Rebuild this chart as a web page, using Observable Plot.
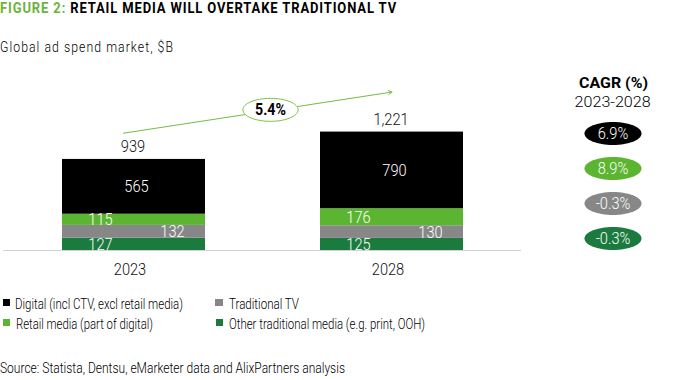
<!DOCTYPE html>
<html><head><meta charset="utf-8">
<script src="https://cdn.jsdelivr.net/npm/d3@7"></script>
<script src="https://cdn.jsdelivr.net/npm/@observablehq/plot@0.6"></script>
<style>
html,body{margin:0;padding:0;background:#fff;}
body{width:700px;height:380px;position:relative;overflow:hidden;font-family:Roboto,"Noto Sans",sans-serif;color:#000;}
.abs{position:absolute;white-space:nowrap;}
</style></head><body>
<script>
// ---- data ----
const years = ["2023", "2028"];
const seriesNames = [
  "Other traditional media (e.g. print, OOH)",
  "Traditional TV",
  "Retail media (part of digital)",
  "Digital (incl CTV, excl retail media)"
];
const otherTraditional = [127, 125];
const traditionalTV = [132, 130];
const retailMedia = [115, 176];
const digital = [565, 790];
const totals = [939, 1221];
const seriesCagr = ["-0.3%", "-0.3%", "8.9%", "6.9%"];
const marketCagr = "5.4%";
const titleLead = "FIGURE 2:";
const titleText = " RETAIL MEDIA WILL OVERTAKE TRADITIONAL TV";
const subtitle = "Global ad spend market, $B";
const cagrHeader = "CAGR (%)";
const cagrPeriod = "2023-2028";
const source = "Source: Statista, Dentsu, eMarketer data and AlixPartners analysis";

// ---- styling ----
const palette = ["#1b7a3e", "#878787", "#5cb531", "#000000"];
const values = [otherTraditional, traditionalTV, retailMedia, digital];
const rows = [];
years.forEach((yr, i) => seriesNames.forEach((s, j) => rows.push({year: yr, series: s, value: values[j][i]})));
const totalRows = years.map((yr, i) => ({year: yr, total: totals[i]}));
const cagrRows = seriesNames.map((s, j) => ({series: s, cagr: seriesCagr[j]}));
const fmt = d3.format(",");

function ellipseSymbol(aspect) {
  return {draw(ctx, size) {
    const ry = Math.sqrt(size / Math.PI), rx = ry * aspect, k = 0.5523;
    ctx.moveTo(rx, 0);
    ctx.bezierCurveTo(rx, k * ry, k * rx, ry, 0, ry);
    ctx.bezierCurveTo(-k * rx, ry, -rx, k * ry, -rx, 0);
    ctx.bezierCurveTo(-rx, -k * ry, -k * rx, -ry, 0, -ry);
    ctx.bezierCurveTo(k * rx, -ry, rx, -k * ry, rx, 0);
    ctx.closePath();
  }};
}

function condense(svg, k) {
  svg.querySelectorAll("text").forEach(t => {
    const w = t.getComputedTextLength();
    if (w > 0) { t.setAttribute("textLength", (w * k).toFixed(2)); t.setAttribute("lengthAdjust", "spacingAndGlyphs"); }
  });
}

function place(parts, o) {
  const el = document.createElement("div");
  el.className = "abs";
  el.style.cssText += `left:${o.left || 0}px;top:${o.top}px;font-size:${o.size}px;line-height:${o.size}px;font-weight:${o.weight || 300};letter-spacing:${o.spacing || 0}px;color:#000;`;
  for (const p of (Array.isArray(parts) ? parts : [[parts]])) {
    const s = document.createElement("span");
    s.textContent = p[0];
    if (p[1]) s.style.color = p[1];
    el.appendChild(s);
  }
  document.body.appendChild(el);
  if (o.target) {
    const w = el.getBoundingClientRect().width;
    if (o.center != null) el.style.left = (o.center - w / 2) + "px";
    el.style.transformOrigin = o.center != null ? "50% 50%" : "0 50%";
    el.style.transform = `scaleX(${o.target / w})`;
  }
  return el;
}

// ---- header ----
place([[titleLead, "#6db33f"], [titleText]], {left: 0, top: 1.4, size: 15, weight: 700, spacing: 1, target: 397});
place(subtitle, {left: 0, top: 39.7, size: 14, weight: 300, spacing: 1.2, target: 174});

// ---- main chart ----
const fontStyle = {fontFamily: "Roboto, sans-serif", fontSize: "17px", fontWeight: 300, background: "transparent"};
const arrowData = [{from: years[0], to: years[1], a: totals[0], b: totals[1]}];
const yStart = d => d.a + 287, yEnd = d => d.b + 413;
const main = Plot.plot({
  width: 540, height: 225,
  marginLeft: 3, marginRight: 19, marginTop: 10, marginBottom: 35,
  x: {domain: years, range: [62, 464], paddingInner: 0.445, paddingOuter: 0, axis: null},
  y: {domain: [0, 1856], axis: null},
  color: {domain: seriesNames, range: palette},
  style: fontStyle,
  marks: [
    Plot.ruleY([0], {stroke: "#d3d3d3", strokeWidth: 1}),
    Plot.barY(rows, Plot.stackY({x: "year", y: "value", fill: "series", order: seriesNames})),
    Plot.text(rows, Plot.stackY({x: "year", y: "value", z: "series", order: seriesNames,
      text: d => (d.series === seriesNames[0] || d.series === seriesNames[2]) ? String(d.value) : null,
      fill: "white", dx: -33.5})),
    Plot.text(rows, Plot.stackY({x: "year", y: "value", z: "series", order: seriesNames,
      text: d => d.series === seriesNames[1] ? String(d.value) : null,
      fill: "white", dx: 38.5})),
    Plot.text(rows, Plot.stackY({x: "year", y: "value", z: "series", order: seriesNames,
      text: d => d.series === seriesNames[3] ? String(d.value) : null,
      fill: "white", dx: 2.5})),
    Plot.text(totalRows, {x: "year", y: "total", text: d => fmt(d.total), dy: -12.5, dx: -1, fill: "#111"}),
    Plot.axisX({tickSize: 0, tickPadding: 12.5, dx: -4, fill: "#111"}),
    Plot.arrow(arrowData, {x1: "from", x2: "to", y1: yStart, y2: yEnd, insetStart: -10.6,
      stroke: "#72bd45", strokeWidth: 1, headLength: 6}),
    Plot.dot(arrowData, {x: "from", dx: 136.5, y: d => yStart(d) * 0.45 + yEnd(d) * 0.55,
      r: 11.5, symbol: ellipseSymbol(2.4), fill: "white", stroke: "#7cc24a", strokeWidth: 1}),
    Plot.text(arrowData, {x: "from", dx: 136.5, y: d => yStart(d) * 0.45 + yEnd(d) * 0.55,
      text: () => marketCagr, fontWeight: 700, fontSize: 16.5, fill: "#000"})
  ]
});
const mainWrap = document.createElement("div");
mainWrap.className = "abs";
mainWrap.style.cssText += "left:0;top:60px;";
mainWrap.appendChild(main);
document.body.appendChild(mainWrap);
condense(main, 0.86);

// ---- CAGR column ----
place(cagrHeader, {center: 613.5, top: 75.5, size: 15.5, weight: 700, target: 69});
place(cagrPeriod, {center: 613, top: 94.6, size: 15.5, weight: 300, target: 76});
const cagrOrder = seriesNames.slice().reverse();
const cagrPlot = Plot.plot({
  width: 160, height: 140,
  marginTop: 18, marginBottom: 17, marginLeft: 0, marginRight: 15,
  y: {type: "point", domain: cagrOrder, padding: 0, axis: null},
  color: {domain: seriesNames, range: palette},
  style: fontStyle,
  marks: [
    Plot.dot(cagrRows, {y: "series", fill: "series", r: 11.5, symbol: ellipseSymbol(2.48), frameAnchor: "middle"}),
    Plot.text(cagrRows, {y: "series", text: "cagr", fill: "white", frameAnchor: "middle"})
  ]
});
const cagrWrap = document.createElement("div");
cagrWrap.className = "abs";
cagrWrap.style.cssText += "left:540px;top:115px;";
cagrWrap.appendChild(cagrPlot);
document.body.appendChild(cagrWrap);
condense(cagrPlot, 0.86);

// ---- legend ----
const legendItems = [
  {idx: 3, sq: [2.5, 298.5], tx: [15, 296.5], w: 168},
  {idx: 2, sq: [2.5, 318.5], tx: [16, 316.5], w: 137},
  {idx: 1, sq: [215, 298.5], tx: [228.5, 296.5], w: 70},
  {idx: 0, sq: [215.5, 318.5], tx: [229, 316.5], w: 196}
];
for (const it of legendItems) {
  const sq = document.createElement("div");
  sq.className = "abs";
  sq.style.cssText += `left:${it.sq[0]}px;top:${it.sq[1]}px;width:7.5px;height:7.5px;background:${palette[it.idx]};`;
  document.body.appendChild(sq);
  place(seriesNames[it.idx], {left: it.tx[0], top: it.tx[1], size: 14, weight: 300, target: it.w});
}

// ---- source ----
place(source, {left: 0, top: 362.3, size: 14.5, weight: 300, target: 345});
</script>
</body></html>
